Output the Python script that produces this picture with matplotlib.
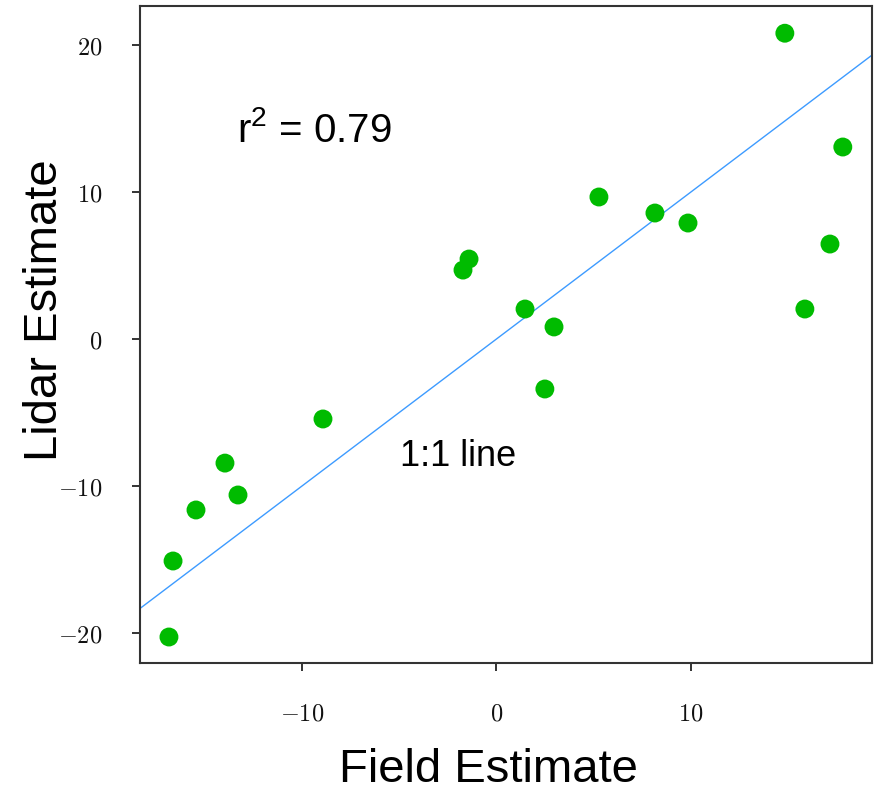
import numpy as np
import matplotlib
matplotlib.use("Agg")
import matplotlib.pyplot as plt

plt.rcParams['mathtext.fontset'] = 'cm'

# Field vs lidar estimates
field = [14.83, 17.81, 5.27, 8.15, 9.85, 17.15, -1.41, -1.72, 1.47, 15.86,
         2.96, 2.49, -8.92, -13.96, -15.45, -13.29, -16.63, -16.84]
lidar = [20.8, 13.06, 9.66, 8.57, 7.89, 6.46, 5.44, 4.69, 2.04, 2.04,
         0.82, -3.40, -5.44, -8.44, -11.63, -10.61, -15.10, -20.27]

xticks = [-10, 0, 10]
yticks = [-20, -10, 0, 10, 20]
r2 = 0.79

fig = plt.figure(figsize=(8.76, 7.93), dpi=100)
ax = fig.add_axes([0.1598, 0.1639, 0.8356, 0.8285])

ax.scatter(field, lidar, s=185, color='#00bb00', edgecolors='none', zorder=3)
ax.axline((0, 0), slope=1, color='#3d9bff', linewidth=1.0, zorder=2)

ax.set_xlim(-18.33, 19.31)
ax.set_ylim(-22.04, 22.65)

ax.set_xticks(xticks)
ax.set_xticklabels([rf'${t}$' for t in xticks], fontsize=17.5)
ax.set_yticks(yticks)
ax.set_yticklabels([rf'${t}$' for t in yticks], fontsize=17.5)
ax.tick_params(axis='x', length=6, width=1.2, pad=22, colors='#111111')
ax.tick_params(axis='y', length=6, width=1.2, pad=21, colors='#111111')

for sp in ax.spines.values():
    sp.set_color('#333333')
    sp.set_linewidth(1.5)

ax.text(-13.34, 14.2, rf'$\mathregular{{r^2}}$ = {r2}', fontsize=29,
        family='Liberation Sans', va='center', ha='left')
ax.text(-4.96, -8.0, '1:1 line', fontsize=26, family='Liberation Sans',
        va='center', ha='left')

fig.text(488 / 876, 1 - 770 / 793, 'Field Estimate', fontsize=34,
         family='Liberation Sans', ha='center', va='center')
fig.text(45 / 876, 1 - 310 / 793, 'Lidar Estimate', fontsize=34,
         family='Liberation Sans', ha='center', va='center', rotation=90)

fig.savefig('out.png', dpi=100)
